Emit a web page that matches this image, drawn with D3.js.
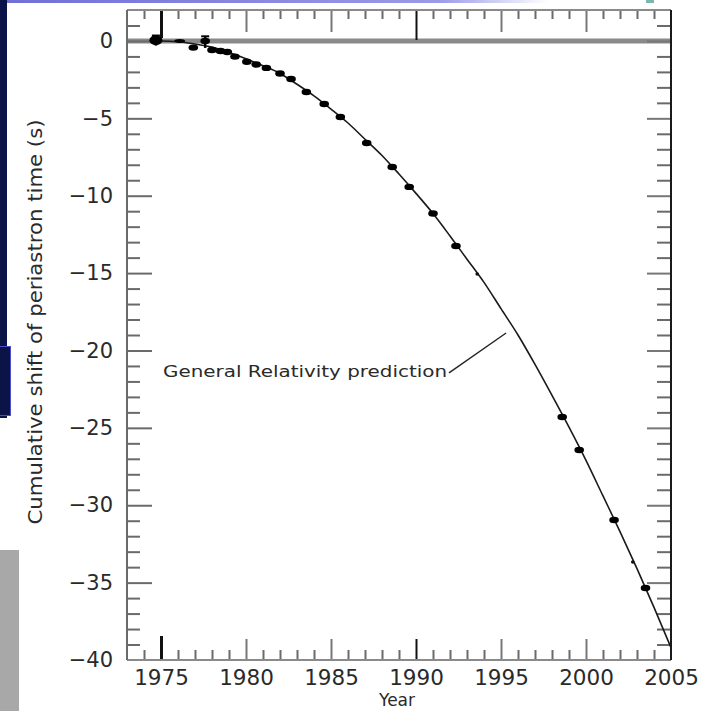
<!DOCTYPE html>
<html><head><meta charset="utf-8">
<script src="https://cdn.jsdelivr.net/npm/d3@7"></script>
<style>body{margin:0;background:#fff;overflow:hidden}svg{display:block}</style>
</head><body>
<svg id="c" width="709" height="711"></svg>
<script>
// ---- data ----
const obsYears = [1974.7, 1976.1, 1976.9, 1977.6, 1978.0, 1978.5, 1978.9, 1979.35, 1980.05, 1980.6, 1981.2, 1982.0, 1982.65, 1983.55, 1984.6, 1985.55, 1987.1, 1988.6, 1989.6, 1991.0, 1992.35, 1998.6, 1999.6, 2001.65, 2003.5];
const obsShift = [0.05, 0.0, -0.43, 0.0, -0.58, -0.65, -0.71, -1.01, -1.34, -1.52, -1.74, -2.1, -2.46, -3.3, -4.07, -4.91, -6.59, -8.14, -9.43, -11.15, -13.25, -24.3, -26.43, -30.95, -35.35];
const faintYears = [1993.6, 2002.75];
const faintShift = [-15.06, -33.67];
const errYears = [1974.7, 1977.6];
const errHigh = [0.35, 0.3];
const errLow = [-0.3, -0.45];
const grYears = [1974.5, 1975, 1976, 1977, 1978, 1979, 1980, 1981, 1982, 1983, 1984, 1985, 1986, 1987, 1988, 1989, 1990, 1991, 1992, 1993, 1994, 1995, 1996, 1997, 1998, 1999, 2000, 2001, 2002, 2003, 2004, 2005];
const grShift = [0.0, 0.0, -0.05, -0.2, -0.4, -0.75, -1.15, -1.6, -2.1, -2.8, -3.55, -4.4, -5.3, -6.35, -7.4, -8.6, -9.85, -11.15, -12.6, -14.1, -15.6, -17.3, -19.0, -20.9, -22.9, -24.95, -27.1, -29.4, -31.7, -34.1, -36.6, -39.2];
const xTickLabels = ["1975", "1980", "1985", "1990", "1995", "2000", "2005"];
const yTickLabels = ["0", "−5", "−10", "−15", "−20", "−25", "−30", "−35", "−40"];
const xTitle = "Year";
const yTitle = "Cumulative shift of periastron time (s)";
const annotationText = "General Relativity prediction";

// ---- layout ----
const svg = d3.select("#c");
const L = 127, R = 671, T = 10, B = 660;
const x = d3.scaleLinear().domain([1973, 2005]).range([L, R]);
const y = d3.scaleLinear().domain([-40, 2]).range([B, T]);
const FONT = "'DejaVu Sans', sans-serif";

// ---- background decorations (slide remnants) ----
const defs = svg.append("defs");
const g1 = defs.append("linearGradient").attr("id", "topband");
g1.append("stop").attr("offset", "0%").attr("stop-color", "#6f6fd6");
g1.append("stop").attr("offset", "80%").attr("stop-color", "#9a9ae8");
g1.append("stop").attr("offset", "100%").attr("stop-color", "#ffffff");
svg.append("rect").attr("x", 0).attr("y", 0).attr("width", 548).attr("height", 3).attr("fill", "url(#topband)");
svg.append("rect").attr("x", 646).attr("y", 0).attr("width", 8).attr("height", 3).attr("fill", "#7cb6ae");
svg.append("rect").attr("x", 0).attr("y", 0).attr("width", 7).attr("height", 418).attr("fill", "#0b1446");
svg.append("rect").attr("x", 0).attr("y", 347).attr("width", 10).attr("height", 68).attr("fill", "#0b1446");
svg.append("rect").attr("x", -1).attr("y", 346.5).attr("width", 11.5).attr("height", 69).attr("fill", "none").attr("stroke", "#4d4dcc").attr("stroke-width", 1);
svg.append("rect").attr("x", 0).attr("y", 550).attr("width", 19).attr("height", 161).attr("fill", "#a8a8a8");

// ---- zero line ----
svg.append("line").attr("x1", L).attr("x2", R).attr("y1", y(0)).attr("y2", y(0))
  .attr("stroke", "#8a8a8a").attr("stroke-width", 5);

// ---- axes ----
const yearsAll = d3.range(1974, 2005);
const xMajor = xTickLabels.map(Number).filter(v => v < 2005);
const xMinor = yearsAll.filter(v => v % 5 !== 0);
const yMajorVals = yTickLabels.map(s => +s.replace("−", "-"));
const yMinor = d3.range(-39, 2).filter(v => v % 5 !== 0);

function styleAxis(g) {
  g.select(".domain").remove();
  g.selectAll(".tick line").attr("stroke", "#6a6a6a").attr("stroke-width", 2);
}
// bottom
svg.append("g").attr("transform", `translate(0,${B})`)
  .call(d3.axisBottom(x).tickValues(xMinor).tickSize(-10).tickFormat("")).call(styleAxis);
const bMaj = svg.append("g").attr("transform", `translate(0,${B})`)
  .call(d3.axisBottom(x).tickValues(xTickLabels.map(Number)).tickSize(-21).tickPadding(10)
    .tickFormat((d, i) => xTickLabels[i])).call(styleAxis);
bMaj.selectAll(".tick line").attr("stroke", d => (d === 1975 || d === 1990) ? "#111" : "#777")
  .attr("stroke-width", d => d === 1975 ? 3 : 2)
  .attr("y2", d => d === 1975 ? -24 : (d === 2005 ? 0 : -21));
bMaj.selectAll(".tick text").attr("font-family", FONT).attr("font-size", 21.5).attr("fill", "#2a2a2a");
// top
svg.append("g").attr("transform", `translate(0,${T})`)
  .call(d3.axisTop(x).tickValues(xMinor).tickSize(-9).tickFormat("")).call(styleAxis);
const tMaj = svg.append("g").attr("transform", `translate(0,${T})`)
  .call(d3.axisTop(x).tickValues(xMajor).tickSize(-22).tickFormat("")).call(styleAxis);
tMaj.selectAll(".tick line").attr("stroke", d => (d === 1975 || d === 1990) ? "#111" : "#777")
  .attr("stroke-width", d => d === 1975 ? 3 : 2)
  .attr("y2", d => d === 1975 ? 28 : (d === 1990 ? 30 : 22));
// left
svg.append("g").attr("transform", `translate(${L},0)`)
  .call(d3.axisLeft(y).tickValues(yMinor).tickSize(-13).tickFormat("")).call(styleAxis);
const lMaj = svg.append("g").attr("transform", `translate(${L},0)`)
  .call(d3.axisLeft(y).tickValues(yMajorVals).tickSize(-25).tickPadding(14)
    .tickFormat((d, i) => yTickLabels[i])).call(styleAxis);
lMaj.selectAll(".tick line").attr("x2", d => d === -40 ? 0 : 25);
lMaj.selectAll(".tick text").attr("font-family", FONT).attr("font-size", 21).attr("fill", "#2a2a2a");
// right
svg.append("g").attr("transform", `translate(${R},0)`)
  .call(d3.axisRight(y).tickValues(yMinor).tickSize(-14).tickFormat("")).call(styleAxis);
const rMaj = svg.append("g").attr("transform", `translate(${R},0)`)
  .call(d3.axisRight(y).tickValues(yMajorVals.filter(v => v > -40)).tickSize(-24).tickFormat("")).call(styleAxis);
rMaj.selectAll(".tick line").attr("stroke", "#777");

// frame
svg.append("line").attr("x1", L).attr("x2", R).attr("y1", T).attr("y2", T).attr("stroke", "#8a8a8a").attr("stroke-width", 2);
svg.append("line").attr("x1", L).attr("x2", R).attr("y1", B).attr("y2", B).attr("stroke", "#8a8a8a").attr("stroke-width", 2);
svg.append("line").attr("x1", L).attr("x2", L).attr("y1", T).attr("y2", B).attr("stroke", "#6a6a6a").attr("stroke-width", 2);
svg.append("line").attr("x1", R).attr("x2", R).attr("y1", T).attr("y2", B).attr("stroke", "#1a1a1a").attr("stroke-width", 2);

// ---- GR prediction curve ----
const grData = grYears.map((d, i) => [d, grShift[i]]);
svg.append("path").datum(grData)
  .attr("d", d3.line().x(d => x(d[0])).y(d => y(d[1])).curve(d3.curveMonotoneX))
  .attr("fill", "none").attr("stroke", "#1a1a1a").attr("stroke-width", 1.6);

// ---- error bars ----
errYears.forEach((d, i) => {
  svg.append("line").attr("x1", x(d)).attr("x2", x(d)).attr("y1", y(errHigh[i])).attr("y2", y(errLow[i]))
    .attr("stroke", "#000").attr("stroke-width", 2.5);
  svg.append("line").attr("x1", x(d) - 4).attr("x2", x(d) + 4).attr("y1", y(errHigh[i])).attr("y2", y(errHigh[i]))
    .attr("stroke", "#000").attr("stroke-width", 2);
});

// ---- observations ----
svg.append("g").selectAll("ellipse").data(obsYears.map((d, i) => [d, obsShift[i], i])).join("ellipse")
  .attr("cx", d => x(d[0])).attr("cy", d => y(d[1]))
  .attr("rx", d => d[2] === 0 ? 6.5 : (d[2] === 1 ? 5.5 : 4.8))
  .attr("ry", d => d[2] === 0 ? 5 : (d[2] === 1 ? 2 : 3.2))
  .attr("fill", "#000");
svg.append("g").selectAll("circle").data(faintYears.map((d, i) => [d, faintShift[i]])).join("circle")
  .attr("cx", d => x(d[0])).attr("cy", d => y(d[1])).attr("r", 1.8).attr("fill", "#111");

// ---- annotation ----
const annStart = [1991.94, -21.45], annEnd = [1995.3, -18.87];
svg.append("line").attr("x1", x(annStart[0])).attr("y1", y(annStart[1]))
  .attr("x2", x(annEnd[0])).attr("y2", y(annEnd[1])).attr("stroke", "#222").attr("stroke-width", 1.4);
svg.append("text").attr("x", x(1975.12)).attr("y", y(-21.7))
  .attr("font-family", FONT).attr("font-size", 16).attr("fill", "#2a2a2a")
  .attr("textLength", 284).attr("lengthAdjust", "spacingAndGlyphs").text(annotationText);

// ---- titles ----
svg.append("text").attr("x", (L + R) / 2 - 2).attr("y", 705.5).attr("text-anchor", "middle")
  .attr("font-family", FONT).attr("font-size", 17).attr("fill", "#2a2a2a").text(xTitle);
svg.append("text").attr("transform", "translate(42,322) rotate(-90)").attr("text-anchor", "middle")
  .attr("font-family", FONT).attr("font-size", 20).attr("fill", "#2a2a2a")
  .attr("textLength", 405).attr("lengthAdjust", "spacingAndGlyphs").text(yTitle);
</script>
</body></html>
